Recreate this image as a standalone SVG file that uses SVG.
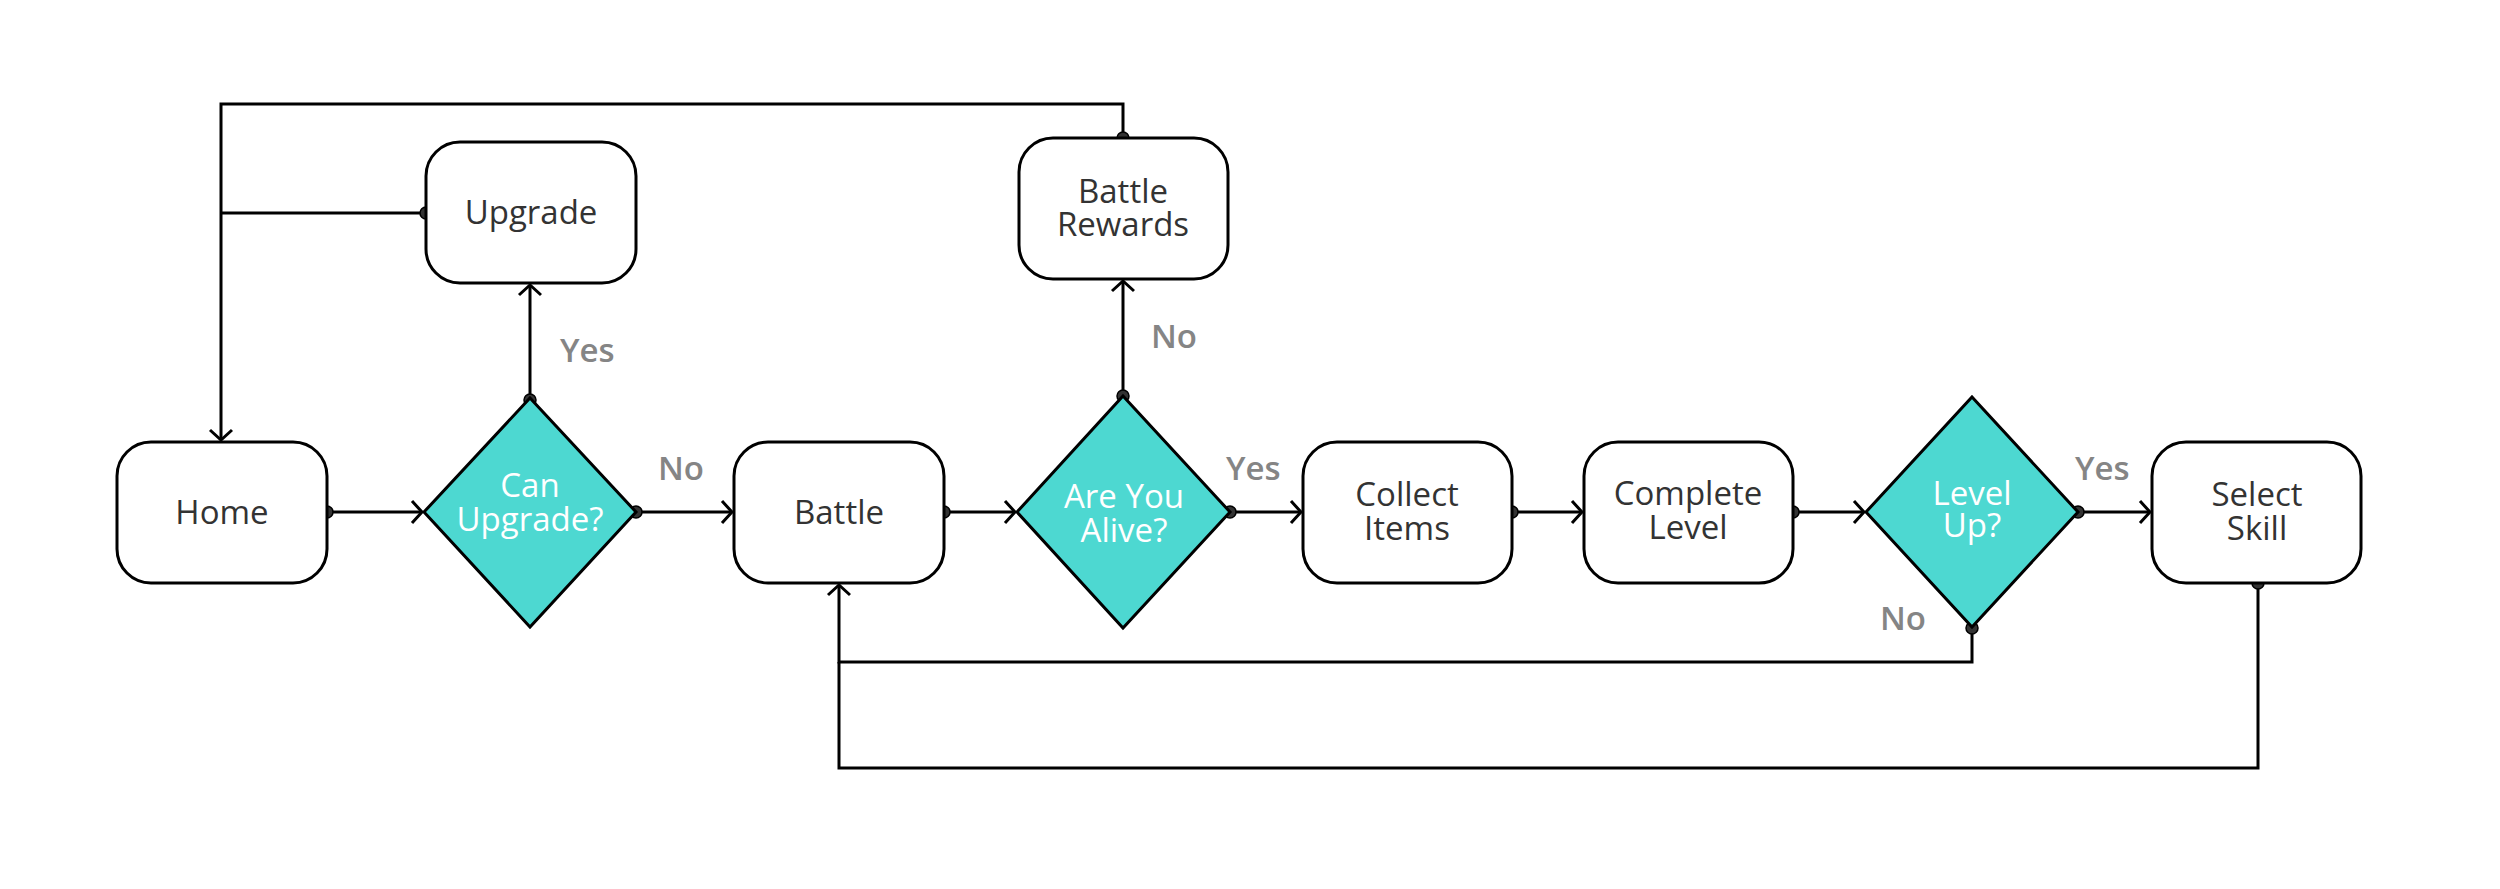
<svg xmlns="http://www.w3.org/2000/svg" width="2500" height="889" viewBox="0 0 2500 889">
<style>
.box{fill:#fff;stroke:#000;stroke-width:3}
.dia{fill:#4dd8d1;stroke:#000;stroke-width:3;stroke-linejoin:miter}
.t{font-family:"Open Sans","Liberation Sans",sans-serif;font-size:33px;fill:#333;text-anchor:middle}
.tw{font-family:"Open Sans","Liberation Sans",sans-serif;font-size:33px;fill:#fff;text-anchor:middle}
.lbl{font-family:"Open Sans","Liberation Sans",sans-serif;font-size:33px;fill:#858585;font-weight:600}
.c{fill:none;stroke:#000;stroke-width:3}
</style>
<defs>
<marker id="arr" markerUnits="userSpaceOnUse" markerWidth="16" markerHeight="26" refX="12" refY="12" orient="auto" overflow="visible">
<path d="M2,1 L12,12 L2,23" fill="none" stroke="#000" stroke-width="3"/>
</marker>
<marker id="dot" markerUnits="userSpaceOnUse" markerWidth="14" markerHeight="14" refX="7" refY="7" orient="auto" overflow="visible">
<circle cx="7" cy="7" r="6" fill="#333" stroke="#000" stroke-width="1.5"/>
</marker>
</defs>
<g id="connectors">
<path class="c" d="M327,512 H422" marker-start="url(#dot)" marker-end="url(#arr)"/>
<path class="c" d="M636,512 H732" marker-start="url(#dot)" marker-end="url(#arr)"/>
<path class="c" d="M530,400 V285" marker-start="url(#dot)" marker-end="url(#arr)"/>
<path class="c" d="M426,213 H221" marker-start="url(#dot)"/>
<path class="c" d="M1123,138 V104 H221 V440" marker-start="url(#dot)" marker-end="url(#arr)"/>
<path class="c" d="M944,512 H1015" marker-start="url(#dot)" marker-end="url(#arr)"/>
<path class="c" d="M1123,396 V281" marker-start="url(#dot)" marker-end="url(#arr)"/>
<path class="c" d="M1230,512 H1301" marker-start="url(#dot)" marker-end="url(#arr)"/>
<path class="c" d="M1512,512 H1582" marker-start="url(#dot)" marker-end="url(#arr)"/>
<path class="c" d="M1793,512 H1864" marker-start="url(#dot)" marker-end="url(#arr)"/>
<path class="c" d="M2078,512 H2150" marker-start="url(#dot)" marker-end="url(#arr)"/>
<path class="c" d="M1972,628 V662 H839 V585" marker-start="url(#dot)" marker-end="url(#arr)"/>
<path class="c" d="M2258,583 V768 H839 V662" marker-start="url(#dot)"/>
<text class="lbl" x="658" y="480">No</text>
<text class="lbl" x="560" y="362">Yes</text>
<text class="lbl" x="1151" y="348">No</text>
<text class="lbl" x="1226" y="480">Yes</text>
<text class="lbl" x="2075" y="480">Yes</text>
<text class="lbl" x="1880" y="630">No</text>
</g>
<g id="home"><rect class="box" x="117" y="442" width="210" height="141" rx="34"/><text class="t" x="222" y="524">Home</text></g>
<g id="can-upgrade"><path class="dia" d="M530,398 L636,512 L530,627 L424,512 Z"/><text class="tw" x="530" y="497">Can<tspan x="530" dy="34">Upgrade?</tspan></text></g>
<g id="upgrade"><rect class="box" x="426" y="142" width="210" height="141" rx="34"/><text class="t" x="531" y="224">Upgrade</text></g>
<g id="battle"><rect class="box" x="734" y="442" width="210" height="141" rx="34"/><text class="t" x="839" y="524">Battle</text></g>
<g id="are-you-alive"><path class="dia" d="M1123,396 L1230,512 L1123,628 L1017,512 Z"/><text class="tw" x="1124" y="508">Are You<tspan x="1124" dy="34">Alive?</tspan></text></g>
<g id="battle-rewards"><rect class="box" x="1019" y="138" width="209" height="141" rx="34"/><text class="t" x="1123" y="203">Battle<tspan x="1123" dy="33">Rewards</tspan></text></g>
<g id="collect-items"><rect class="box" x="1303" y="442" width="209" height="141" rx="34"/><text class="t" x="1407" y="506">Collect<tspan x="1407" dy="34">Items</tspan></text></g>
<g id="complete-level"><rect class="box" x="1584" y="442" width="209" height="141" rx="34"/><text class="t" x="1688" y="505">Complete<tspan x="1688" dy="34">Level</tspan></text></g>
<g id="level-up"><path class="dia" d="M1972,397 L2078,512 L1972,627 L1866,512 Z"/><text class="tw" x="1972" y="505">Level<tspan x="1972" dy="32">Up?</tspan></text></g>
<g id="select-skill"><rect class="box" x="2152" y="442" width="209" height="141" rx="34"/><text class="t" x="2257" y="506">Select<tspan x="2257" dy="34">Skill</tspan></text></g>
</svg>
